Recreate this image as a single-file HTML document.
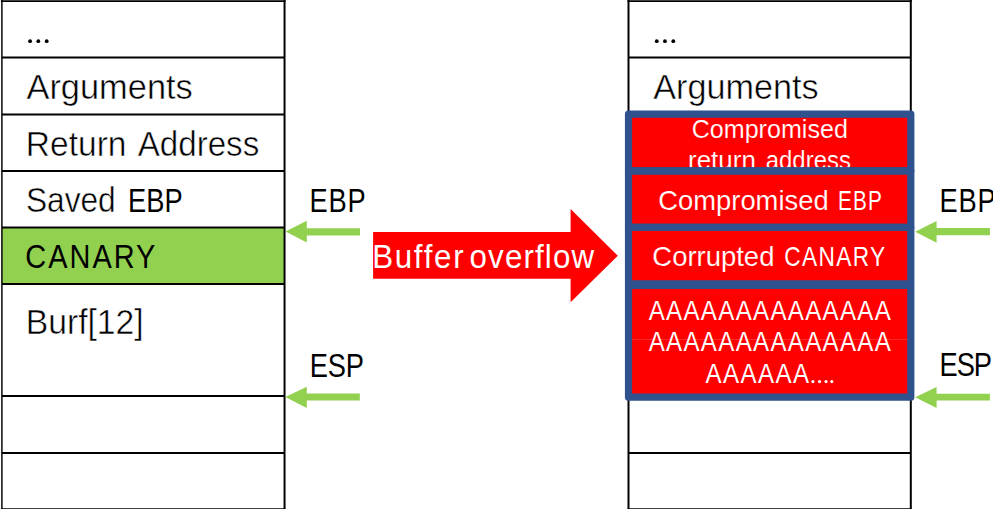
<!DOCTYPE html>
<html><head><meta charset="utf-8"><style>
html,body{margin:0;padding:0;background:#fff;width:993px;height:509px;overflow:hidden}
svg{display:block}
text{font-family:"Liberation Sans", sans-serif;}
</style></head><body>
<svg width="993" height="509" viewBox="0 0 993 509">
<rect width="993" height="509" fill="#fff"/>
<rect x="1.9" y="227.6" width="282.65000000000003" height="56.50000000000003" fill="#92D050"/>
<line x1="0.8999999999999999" y1="1.19" x2="285.55" y2="1.19" stroke="#000" stroke-width="1.66"/>
<line x1="0.8999999999999999" y1="509.2" x2="285.55" y2="509.2" stroke="#000" stroke-width="2"/>
<line x1="1.9" y1="57.6" x2="284.55" y2="57.6" stroke="#000" stroke-width="2"/>
<line x1="1.9" y1="114.4" x2="284.55" y2="114.4" stroke="#000" stroke-width="2"/>
<line x1="1.9" y1="171.1" x2="284.55" y2="171.1" stroke="#000" stroke-width="2"/>
<line x1="1.9" y1="227.6" x2="284.55" y2="227.6" stroke="#000" stroke-width="2"/>
<line x1="1.9" y1="284.1" x2="284.55" y2="284.1" stroke="#000" stroke-width="2"/>
<line x1="1.9" y1="396.0" x2="284.55" y2="396.0" stroke="#000" stroke-width="2"/>
<line x1="1.9" y1="452.9" x2="284.55" y2="452.9" stroke="#000" stroke-width="2"/>
<line x1="1.9" y1="0" x2="1.9" y2="509" stroke="#000" stroke-width="1.45"/>
<line x1="284.55" y1="0" x2="284.55" y2="509" stroke="#000" stroke-width="2"/>
<line x1="627.5" y1="1.19" x2="911.8" y2="1.19" stroke="#000" stroke-width="1.66"/>
<line x1="627.5" y1="509.2" x2="911.8" y2="509.2" stroke="#000" stroke-width="2"/>
<line x1="628.5" y1="57.6" x2="910.8" y2="57.6" stroke="#000" stroke-width="2"/>
<line x1="628.5" y1="114.4" x2="910.8" y2="114.4" stroke="#000" stroke-width="2"/>
<line x1="628.5" y1="171.1" x2="910.8" y2="171.1" stroke="#000" stroke-width="2"/>
<line x1="628.5" y1="227.6" x2="910.8" y2="227.6" stroke="#000" stroke-width="2"/>
<line x1="628.5" y1="284.1" x2="910.8" y2="284.1" stroke="#000" stroke-width="2"/>
<line x1="628.5" y1="396.0" x2="910.8" y2="396.0" stroke="#000" stroke-width="2"/>
<line x1="628.5" y1="452.9" x2="910.8" y2="452.9" stroke="#000" stroke-width="2"/>
<line x1="628.5" y1="0" x2="628.5" y2="509" stroke="#000" stroke-width="2"/>
<line x1="910.8" y1="0" x2="910.8" y2="509" stroke="#000" stroke-width="2"/>
<circle cx="30.1" cy="41.2" r="1.9" fill="#000"/>
<circle cx="38.3" cy="41.2" r="1.9" fill="#000"/>
<circle cx="46.7" cy="41.2" r="1.9" fill="#000"/>
<circle cx="656.75" cy="41.2" r="1.9" fill="#000"/>
<circle cx="664.95" cy="41.2" r="1.9" fill="#000"/>
<circle cx="673.3" cy="41.2" r="1.9" fill="#000"/>
<text x="26.48" y="99.25" font-size="34.78" textLength="166.30" lengthAdjust="spacingAndGlyphs" fill="#000" stroke="#fff" stroke-width="0.5">Arguments</text>
<text x="25.87" y="155.85" font-size="34.78" textLength="100.61" lengthAdjust="spacingAndGlyphs" fill="#000" stroke="#fff" stroke-width="0.5">Return</text>
<text x="137.68" y="155.85" font-size="34.78" textLength="121.58" lengthAdjust="spacingAndGlyphs" fill="#000" stroke="#fff" stroke-width="0.5">Address</text>
<text x="25.92" y="212.05" font-size="34.78" textLength="89.80" lengthAdjust="spacingAndGlyphs" fill="#000" stroke="#fff" stroke-width="0.5">Saved</text>
<text transform="translate(128.02,0) scale(0.8,1)" x="0" y="211.80" font-size="34.06" letter-spacing="0.093" fill="#000">EBP</text>
<text x="25.76" y="333.55" font-size="34.78" textLength="117.92" lengthAdjust="spacingAndGlyphs" fill="#000" stroke="#fff" stroke-width="0.5">Burf[12]</text>
<text transform="translate(309.52,0) scale(0.8,1)" x="0" y="211.80" font-size="34.06" letter-spacing="1.031" fill="#000">EBP</text>
<text transform="translate(309.72,0) scale(0.8,1)" x="0" y="376.60" font-size="34.06" letter-spacing="-0.219" fill="#000">ESP</text>
<text x="653.28" y="99.25" font-size="34.78" textLength="165.39" lengthAdjust="spacingAndGlyphs" fill="#000" stroke="#fff" stroke-width="0.5">Arguments</text>
<text transform="translate(939.52,0) scale(0.8,1)" x="0" y="211.60" font-size="34.06" letter-spacing="1.031" fill="#000">EBP</text>
<text transform="translate(939.52,0) scale(0.8,1)" x="0" y="376.40" font-size="34.06" letter-spacing="-1.282" fill="#000">ESP</text>
<text transform="translate(25.35,0) scale(0.85,1)" x="0" y="268.20" font-size="34.06" letter-spacing="2.350" fill="#000">CANARY</text>
<polygon points="285.5,231.5 306.8,220.8 306.8,228.2 360.0,228.2 360.0,235.6 306.8,235.6 306.8,242.5" fill="#92D050"/>
<polygon points="285.3,397.1 306.8,386.8 306.8,393.6 359.8,393.6 359.8,400.5 306.8,400.5 306.8,408.0" fill="#92D050"/>
<polygon points="915.2,231.7 936.6,221.0 936.6,228.1 989.9,228.1 989.9,235.2 936.6,235.2 936.6,242.8" fill="#92D050"/>
<polygon points="915.2,397.2 936.6,386.9 936.6,393.8 989.9,393.8 989.9,400.4 936.6,400.4 936.6,408.1" fill="#92D050"/>
<polygon points="373.1,232.1 570.6,232.1 570.6,209.1 617.8,255.7 570.6,302.2 570.6,278.8 373.1,278.8" fill="#FF0000"/>
<text transform="translate(372.19,0) scale(0.92,1)" x="0" y="268.40" font-size="34.06" letter-spacing="1.826" fill="#fff">Buffer</text>
<text transform="translate(469.55,0) scale(0.92,1)" x="0" y="268.40" font-size="34.06" letter-spacing="1.232" fill="#fff">overflow</text>
<rect x="628.5" y="114.1" width="282.29999999999995" height="56.80000000000001" fill="#FF0000"/>
<rect x="628.5" y="170.9" width="282.29999999999995" height="56.400000000000006" fill="#FF0000"/>
<rect x="628.5" y="227.3" width="282.29999999999995" height="56.5" fill="#FF0000"/>
<rect x="628.5" y="285.3" width="282.29999999999995" height="111.89999999999998" fill="#FF0000"/>
<text x="658.26" y="209.67" font-size="27.90" textLength="170.38" lengthAdjust="spacingAndGlyphs" fill="#fff" stroke="#FF0000" stroke-width="0.15">Compromised</text>
<text transform="translate(837.94,0) scale(0.75,1)" x="0" y="209.60" font-size="27.68" letter-spacing="1.585" fill="#fff">EBP</text>
<text x="652.35" y="266.07" font-size="27.90" textLength="122.06" lengthAdjust="spacingAndGlyphs" fill="#fff" stroke="#FF0000" stroke-width="0.15">Corrupted</text>
<text transform="translate(784.27,0) scale(0.82,1)" x="0" y="266.00" font-size="27.68" letter-spacing="1.632" fill="#fff">CANARY</text>
<text x="691.67" y="137.97" font-size="26.30" textLength="156.22" lengthAdjust="spacingAndGlyphs" fill="#fff" stroke="#FF0000" stroke-width="0.15">Compromised</text>
<text x="688.04" y="168.67" font-size="26.30" textLength="67.79" lengthAdjust="spacingAndGlyphs" fill="#fff" stroke="#FF0000" stroke-width="0.15">return</text>
<text x="765.75" y="168.67" font-size="26.30" textLength="85.11" lengthAdjust="spacingAndGlyphs" fill="#fff" stroke="#FF0000" stroke-width="0.15">address</text>
<text transform="translate(648.68,0) scale(0.87,1)" x="0" y="320.10" font-size="27.68" letter-spacing="1.530" fill="#fff">AAAAAAAAAAAAAA</text>
<text transform="translate(648.68,0) scale(0.87,1)" x="0" y="351.50" font-size="27.68" letter-spacing="1.530" fill="#fff">AAAAAAAAAAAAAA</text>
<text transform="translate(705.38,0) scale(0.87,1)" x="0" y="383.00" font-size="27.68" letter-spacing="1.699" fill="#fff">AAAAAA</text>
<circle cx="812.9" cy="381.6" r="1.55" fill="#fff"/>
<circle cx="819.5" cy="381.6" r="1.55" fill="#fff"/>
<circle cx="826.0" cy="381.6" r="1.55" fill="#fff"/>
<circle cx="831.8" cy="381.6" r="1.55" fill="#fff"/>
<rect x="628.5" y="339" width="282.29999999999995" height="1" fill="#fff" fill-opacity="0.15"/>
<rect x="628.5" y="114.1" width="282.29999999999995" height="56.80000000000001" fill="none" stroke="#2F528F" stroke-width="7.2" stroke-linejoin="round"/>
<rect x="628.5" y="170.9" width="282.29999999999995" height="56.400000000000006" fill="none" stroke="#2F528F" stroke-width="7.2" stroke-linejoin="round"/>
<rect x="628.5" y="227.3" width="282.29999999999995" height="56.5" fill="none" stroke="#2F528F" stroke-width="7.2" stroke-linejoin="round"/>
<rect x="628.5" y="285.3" width="282.29999999999995" height="111.89999999999998" fill="none" stroke="#2F528F" stroke-width="7.2" stroke-linejoin="round"/>
</svg>
</body></html>
